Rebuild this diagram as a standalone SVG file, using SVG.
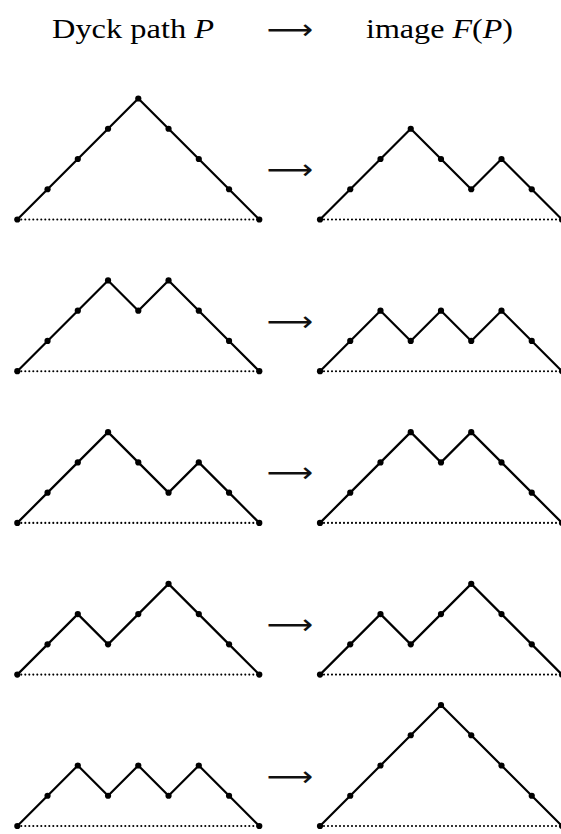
<svg xmlns="http://www.w3.org/2000/svg" xmlns:xlink="http://www.w3.org/1999/xlink" width="561" height="834" viewBox="0 0 561 834">
<style>
.path{fill:none;stroke:#000;stroke-width:2.2;stroke-linejoin:round}
.base{fill:none;stroke:#000;stroke-width:2.1;stroke-linecap:round;stroke-dasharray:0 4}
.title{font-family:"Liberation Serif","DejaVu Serif",serif;font-size:28px;fill:#000}
.it{font-style:italic}
.arr{font-family:"DejaVu Sans",sans-serif;font-size:28px;fill:#111}
</style>
<defs>
<circle id="v" r="3.1" fill="#000"/>
</defs>
<rect width="561" height="834" fill="#fff"/>
<g id="title">
<text class="title" x="52" y="38" textLength="162" lengthAdjust="spacingAndGlyphs">Dyck path <tspan class="it">P</tspan></text>
<text class="title" x="366" y="38" textLength="147" lengthAdjust="spacingAndGlyphs">image <tspan class="it">F</tspan>(<tspan class="it">P</tspan>)</text>
</g>
<g id="connectors">
<text class="arr" x="266.5" y="39" textLength="46.5" lengthAdjust="spacingAndGlyphs">⟶</text>
<text class="arr" x="266.5" y="179" textLength="46.5" lengthAdjust="spacingAndGlyphs">⟶</text>
<text class="arr" x="266.5" y="330.7" textLength="46.5" lengthAdjust="spacingAndGlyphs">⟶</text>
<text class="arr" x="266.5" y="482.4" textLength="46.5" lengthAdjust="spacingAndGlyphs">⟶</text>
<text class="arr" x="266.5" y="634.1" textLength="46.5" lengthAdjust="spacingAndGlyphs">⟶</text>
<text class="arr" x="266.5" y="785.8" textLength="46.5" lengthAdjust="spacingAndGlyphs">⟶</text>
</g>
<!-- Row 1 -->
<g id="p1" transform="translate(17.3,219.5)">
<line class="base" x1="0" y1="0" x2="242" y2="0"/>
<polyline class="path" points="0,0 30.25,-30.25 60.5,-60.5 90.75,-90.75 121,-121 151.25,-90.75 181.5,-60.5 211.75,-30.25 242,0"/>
<use xlink:href="#v" x="0" y="0"/><use xlink:href="#v" x="30.25" y="-30.25"/><use xlink:href="#v" x="60.5" y="-60.5"/><use xlink:href="#v" x="90.75" y="-90.75"/><use xlink:href="#v" x="121" y="-121"/><use xlink:href="#v" x="151.25" y="-90.75"/><use xlink:href="#v" x="181.5" y="-60.5"/><use xlink:href="#v" x="211.75" y="-30.25"/><use xlink:href="#v" x="242" y="0"/>
</g>
<g id="f1" transform="translate(320,219.5)">
<line class="base" x1="0" y1="0" x2="242" y2="0"/>
<polyline class="path" points="0,0 30.25,-30.25 60.5,-60.5 90.75,-90.75 121,-60.5 151.25,-30.25 181.5,-60.5 211.75,-30.25 242,0"/>
<use xlink:href="#v" x="0" y="0"/><use xlink:href="#v" x="30.25" y="-30.25"/><use xlink:href="#v" x="60.5" y="-60.5"/><use xlink:href="#v" x="90.75" y="-90.75"/><use xlink:href="#v" x="121" y="-60.5"/><use xlink:href="#v" x="151.25" y="-30.25"/><use xlink:href="#v" x="181.5" y="-60.5"/><use xlink:href="#v" x="211.75" y="-30.25"/><use xlink:href="#v" x="242" y="0"/>
</g>
<!-- Row 2 -->
<g id="p2" transform="translate(17.3,371.2)">
<line class="base" x1="0" y1="0" x2="242" y2="0"/>
<polyline class="path" points="0,0 30.25,-30.25 60.5,-60.5 90.75,-90.75 121,-60.5 151.25,-90.75 181.5,-60.5 211.75,-30.25 242,0"/>
<use xlink:href="#v" x="0" y="0"/><use xlink:href="#v" x="30.25" y="-30.25"/><use xlink:href="#v" x="60.5" y="-60.5"/><use xlink:href="#v" x="90.75" y="-90.75"/><use xlink:href="#v" x="121" y="-60.5"/><use xlink:href="#v" x="151.25" y="-90.75"/><use xlink:href="#v" x="181.5" y="-60.5"/><use xlink:href="#v" x="211.75" y="-30.25"/><use xlink:href="#v" x="242" y="0"/>
</g>
<g id="f2" transform="translate(320,371.2)">
<line class="base" x1="0" y1="0" x2="242" y2="0"/>
<polyline class="path" points="0,0 30.25,-30.25 60.5,-60.5 90.75,-30.25 121,-60.5 151.25,-30.25 181.5,-60.5 211.75,-30.25 242,0"/>
<use xlink:href="#v" x="0" y="0"/><use xlink:href="#v" x="30.25" y="-30.25"/><use xlink:href="#v" x="60.5" y="-60.5"/><use xlink:href="#v" x="90.75" y="-30.25"/><use xlink:href="#v" x="121" y="-60.5"/><use xlink:href="#v" x="151.25" y="-30.25"/><use xlink:href="#v" x="181.5" y="-60.5"/><use xlink:href="#v" x="211.75" y="-30.25"/><use xlink:href="#v" x="242" y="0"/>
</g>
<!-- Row 3 -->
<g id="p3" transform="translate(17.3,522.9)">
<line class="base" x1="0" y1="0" x2="242" y2="0"/>
<polyline class="path" points="0,0 30.25,-30.25 60.5,-60.5 90.75,-90.75 121,-60.5 151.25,-30.25 181.5,-60.5 211.75,-30.25 242,0"/>
<use xlink:href="#v" x="0" y="0"/><use xlink:href="#v" x="30.25" y="-30.25"/><use xlink:href="#v" x="60.5" y="-60.5"/><use xlink:href="#v" x="90.75" y="-90.75"/><use xlink:href="#v" x="121" y="-60.5"/><use xlink:href="#v" x="151.25" y="-30.25"/><use xlink:href="#v" x="181.5" y="-60.5"/><use xlink:href="#v" x="211.75" y="-30.25"/><use xlink:href="#v" x="242" y="0"/>
</g>
<g id="f3" transform="translate(320,522.9)">
<line class="base" x1="0" y1="0" x2="242" y2="0"/>
<polyline class="path" points="0,0 30.25,-30.25 60.5,-60.5 90.75,-90.75 121,-60.5 151.25,-90.75 181.5,-60.5 211.75,-30.25 242,0"/>
<use xlink:href="#v" x="0" y="0"/><use xlink:href="#v" x="30.25" y="-30.25"/><use xlink:href="#v" x="60.5" y="-60.5"/><use xlink:href="#v" x="90.75" y="-90.75"/><use xlink:href="#v" x="121" y="-60.5"/><use xlink:href="#v" x="151.25" y="-90.75"/><use xlink:href="#v" x="181.5" y="-60.5"/><use xlink:href="#v" x="211.75" y="-30.25"/><use xlink:href="#v" x="242" y="0"/>
</g>
<!-- Row 4 -->
<g id="p4" transform="translate(17.3,674.6)">
<line class="base" x1="0" y1="0" x2="242" y2="0"/>
<polyline class="path" points="0,0 30.25,-30.25 60.5,-60.5 90.75,-30.25 121,-60.5 151.25,-90.75 181.5,-60.5 211.75,-30.25 242,0"/>
<use xlink:href="#v" x="0" y="0"/><use xlink:href="#v" x="30.25" y="-30.25"/><use xlink:href="#v" x="60.5" y="-60.5"/><use xlink:href="#v" x="90.75" y="-30.25"/><use xlink:href="#v" x="121" y="-60.5"/><use xlink:href="#v" x="151.25" y="-90.75"/><use xlink:href="#v" x="181.5" y="-60.5"/><use xlink:href="#v" x="211.75" y="-30.25"/><use xlink:href="#v" x="242" y="0"/>
</g>
<g id="f4" transform="translate(320,674.6)">
<line class="base" x1="0" y1="0" x2="242" y2="0"/>
<polyline class="path" points="0,0 30.25,-30.25 60.5,-60.5 90.75,-30.25 121,-60.5 151.25,-90.75 181.5,-60.5 211.75,-30.25 242,0"/>
<use xlink:href="#v" x="0" y="0"/><use xlink:href="#v" x="30.25" y="-30.25"/><use xlink:href="#v" x="60.5" y="-60.5"/><use xlink:href="#v" x="90.75" y="-30.25"/><use xlink:href="#v" x="121" y="-60.5"/><use xlink:href="#v" x="151.25" y="-90.75"/><use xlink:href="#v" x="181.5" y="-60.5"/><use xlink:href="#v" x="211.75" y="-30.25"/><use xlink:href="#v" x="242" y="0"/>
</g>
<!-- Row 5 -->
<g id="p5" transform="translate(17.3,826)">
<line class="base" x1="0" y1="0" x2="242" y2="0"/>
<polyline class="path" points="0,0 30.25,-30.25 60.5,-60.5 90.75,-30.25 121,-60.5 151.25,-30.25 181.5,-60.5 211.75,-30.25 242,0"/>
<use xlink:href="#v" x="0" y="0"/><use xlink:href="#v" x="30.25" y="-30.25"/><use xlink:href="#v" x="60.5" y="-60.5"/><use xlink:href="#v" x="90.75" y="-30.25"/><use xlink:href="#v" x="121" y="-60.5"/><use xlink:href="#v" x="151.25" y="-30.25"/><use xlink:href="#v" x="181.5" y="-60.5"/><use xlink:href="#v" x="211.75" y="-30.25"/><use xlink:href="#v" x="242" y="0"/>
</g>
<g id="f5" transform="translate(320,826)">
<line class="base" x1="0" y1="0" x2="242" y2="0"/>
<polyline class="path" points="0,0 30.25,-30.25 60.5,-60.5 90.75,-90.75 121,-121 151.25,-90.75 181.5,-60.5 211.75,-30.25 242,0"/>
<use xlink:href="#v" x="0" y="0"/><use xlink:href="#v" x="30.25" y="-30.25"/><use xlink:href="#v" x="60.5" y="-60.5"/><use xlink:href="#v" x="90.75" y="-90.75"/><use xlink:href="#v" x="121" y="-121"/><use xlink:href="#v" x="151.25" y="-90.75"/><use xlink:href="#v" x="181.5" y="-60.5"/><use xlink:href="#v" x="211.75" y="-30.25"/><use xlink:href="#v" x="242" y="0"/>
</g>
</svg>
